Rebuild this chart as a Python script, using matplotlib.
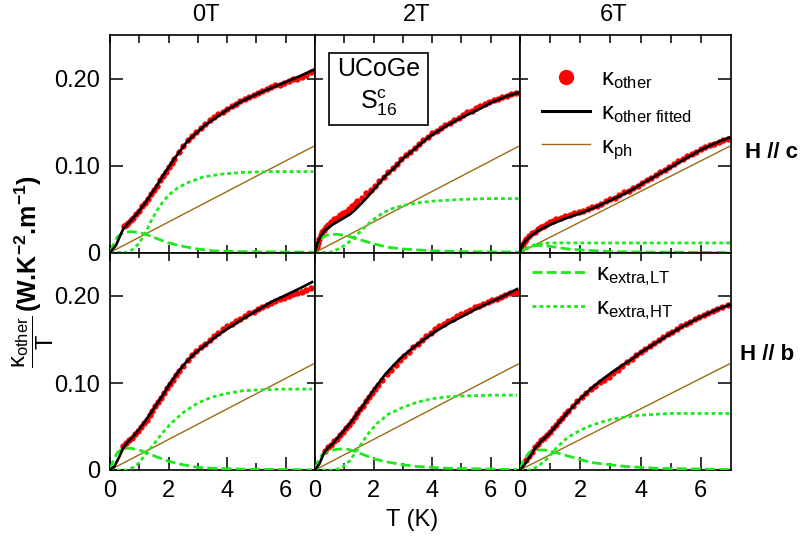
import matplotlib.pyplot as plt
from matplotlib.lines import Line2D
from matplotlib.ticker import FixedLocator, FuncFormatter

plt.rcParams['font.family'] = ['Liberation Sans', 'DejaVu Sans']
plt.rcParams['mathtext.fontset'] = 'custom'
plt.rcParams['mathtext.rm'] = 'Liberation Sans'
plt.rcParams['mathtext.it'] = 'Liberation Sans:italic'
plt.rcParams['mathtext.bf'] = 'Liberation Sans:bold'
plt.rcParams['font.size'] = 17

# ---------------- data ----------------
fields = ['0T', '2T', '6T']

# phonon contribution (same in every panel)
T_ph = [0, 6.95]
k_ph = [0, 0.122]

# H // c, 0T
T_c0 = [0.48, 0.55, 0.62, 0.7, 0.8, 0.9, 1.0, 1.1, 1.2, 1.3, 1.4, 1.5, 1.6, 1.7, 1.8, 1.9, 2.0, 2.1, 2.2, 2.35,
        2.5, 2.65, 2.8, 2.95, 3.1, 3.25, 3.4, 3.55, 3.7, 3.85, 4.0, 4.15, 4.3, 4.45, 4.6, 4.75, 4.9, 5.05, 5.2,
        5.35, 5.5, 5.65, 5.8, 5.95, 6.1, 6.25, 6.4, 6.55, 6.7, 6.85]
k_c0 = [0.030, 0.032, 0.034, 0.037, 0.040, 0.044, 0.048, 0.053, 0.057, 0.062, 0.067, 0.072, 0.077, 0.083,
        0.088, 0.093, 0.098, 0.103, 0.108, 0.115, 0.122, 0.129, 0.134, 0.139, 0.143, 0.148, 0.152, 0.156,
        0.159, 0.162, 0.165, 0.168, 0.171, 0.174, 0.177, 0.179, 0.181, 0.183, 0.186, 0.188, 0.190, 0.192,
        0.193, 0.195, 0.197, 0.199, 0.200, 0.202, 0.204, 0.207]
Tfit_c0 = [0, 0.2, 0.45, 0.6, 0.8, 1.0, 1.2, 1.4, 1.6, 1.8, 2.0, 2.2, 2.4, 2.6, 2.8, 3.0, 3.2, 3.4, 3.7, 4.0,
           4.5, 5.0, 5.5, 6.0, 6.5, 6.95]
kfit_c0 = [0, 0.008, 0.027, 0.033, 0.040, 0.048, 0.057, 0.067, 0.077, 0.088, 0.098, 0.108, 0.117, 0.126,
           0.133, 0.139, 0.145, 0.150, 0.157, 0.164, 0.174, 0.182, 0.189, 0.196, 0.203, 0.210]
Tlt_c0 = [0, 0.1, 0.25, 0.45, 0.7, 1.0, 1.3, 1.6, 2.0, 2.5, 3.0, 3.5, 4.5, 6.95]
klt_c0 = [0, 0.008, 0.018, 0.023, 0.024, 0.023, 0.020, 0.016, 0.011, 0.007, 0.004, 0.002, 0.001, 0.0003]
Tht_c0 = [0, 0.6, 0.8, 1.0, 1.2, 1.4, 1.6, 1.8, 2.0, 2.3, 2.7, 3.2, 3.8, 4.5, 5.5, 6.95]
kht_c0 = [0, 0, 0.004, 0.011, 0.022, 0.036, 0.048, 0.058, 0.066, 0.074, 0.081, 0.087, 0.090, 0.092, 0.093, 0.093]

# H // c, 2T
T_c1 = [0.02, 0.06, 0.1, 0.15, 0.2, 0.25, 0.3, 0.38, 0.46, 0.55, 0.65, 0.75, 0.85, 0.95, 1.05, 1.15, 1.25,
        1.35, 1.45, 1.6, 1.75, 1.9, 2.05, 2.2, 2.35, 2.5, 2.65, 2.8, 2.95, 3.1, 3.25, 3.4, 3.55, 3.7, 3.85,
        4.0, 4.15, 4.3, 4.45, 4.6, 4.75, 4.9, 5.05, 5.2, 5.35, 5.5, 5.65, 5.8, 5.95, 6.1, 6.25, 6.4, 6.55,
        6.7, 6.85]
k_c1 = [0.0, 0.006, 0.011, 0.016, 0.020, 0.023, 0.026, 0.029, 0.032, 0.035, 0.038, 0.040, 0.043, 0.045,
        0.047, 0.050, 0.053, 0.056, 0.059, 0.063, 0.068, 0.072, 0.077, 0.082, 0.087, 0.092, 0.097, 0.102,
        0.107, 0.112, 0.116, 0.120, 0.125, 0.129, 0.133, 0.137, 0.140, 0.143, 0.146, 0.149, 0.152, 0.155,
        0.158, 0.161, 0.163, 0.166, 0.168, 0.171, 0.173, 0.175, 0.177, 0.179, 0.180, 0.182, 0.183]
Tfit_c1 = [0, 0.05, 0.1, 0.2, 0.3, 0.4, 0.6, 0.8, 1.0, 1.2, 1.4, 1.6, 1.8, 2.0, 2.2, 2.4, 2.7, 3.0, 3.4, 3.9,
           4.5, 5.0, 5.5, 6.0, 6.5, 6.95]
kfit_c1 = [0, 0.006, 0.012, 0.019, 0.024, 0.027, 0.032, 0.036, 0.040, 0.044, 0.050, 0.057, 0.064, 0.072,
           0.080, 0.088, 0.097, 0.108, 0.119, 0.133, 0.146, 0.155, 0.163, 0.172, 0.179, 0.184]
Tlt_c1 = [0, 0.1, 0.2, 0.4, 0.7, 1.0, 1.3, 1.6, 2.0, 2.5, 3.0, 4.0, 5.0, 6.95]
klt_c1 = [0, 0.010, 0.016, 0.020, 0.021, 0.020, 0.017, 0.014, 0.010, 0.006, 0.004, 0.002, 0.001, 0.0005]
Tht_c1 = [0, 0.5, 0.8, 1.0, 1.2, 1.4, 1.6, 1.8, 2.0, 2.3, 2.6, 3.0, 3.5, 4.0, 5.0, 6.0, 6.95]
kht_c1 = [0, 0, 0.004, 0.008, 0.013, 0.019, 0.026, 0.032, 0.038, 0.045, 0.050, 0.054, 0.057, 0.059, 0.061,
          0.062, 0.062]

# H // c, 6T
T_c2 = [0.02, 0.05, 0.1, 0.15, 0.2, 0.3, 0.4, 0.5, 0.6, 0.7, 0.8, 0.9, 1.0, 1.1, 1.2, 1.35, 1.5, 1.65, 1.8,
        1.95, 2.1, 2.25, 2.4, 2.55, 2.7, 2.85, 3.0, 3.15, 3.3, 3.45, 3.6, 3.75, 3.9, 4.05, 4.2, 4.35, 4.5,
        4.65, 4.8, 4.95, 5.1, 5.25, 5.4, 5.55, 5.7, 5.85, 6.0, 6.15, 6.3, 6.45, 6.6, 6.75, 6.9]
k_c2 = [0.001, 0.006, 0.010, 0.013, 0.015, 0.019, 0.022, 0.024, 0.027, 0.029, 0.031, 0.033, 0.035, 0.036,
        0.038, 0.040, 0.042, 0.043, 0.045, 0.047, 0.048, 0.050, 0.052, 0.054, 0.056, 0.059, 0.061, 0.063,
        0.066, 0.069, 0.071, 0.074, 0.077, 0.080, 0.083, 0.086, 0.089, 0.092, 0.095, 0.098, 0.102, 0.105,
        0.108, 0.111, 0.113, 0.116, 0.119, 0.121, 0.123, 0.125, 0.127, 0.129, 0.131]
Tfit_c2 = [0, 0.04, 0.15, 0.32, 0.6, 1.0, 1.5, 2.0, 2.5, 3.0, 3.5, 4.0, 4.5, 5.0, 5.5, 6.0, 6.5, 7.0]
kfit_c2 = [0, 0.006, 0.012, 0.018, 0.025, 0.032, 0.039, 0.045, 0.052, 0.060, 0.068, 0.078, 0.088, 0.098,
           0.108, 0.118, 0.126, 0.133]
Tlt_c2 = [0, 0.2, 0.5, 0.8, 1.2, 1.6, 2.0, 2.5, 3.0, 4.0, 7.0]
klt_c2 = [0, 0.005, 0.008, 0.008, 0.006, 0.004, 0.003, 0.002, 0.001, 0.0005, 0]
Tht_c2 = [0, 0.2, 0.4, 0.6, 1.0, 7.0]
kht_c2 = [0, 0.004, 0.008, 0.010, 0.011, 0.011]

# H // b, 0T
T_b0 = [0.45, 0.55, 0.65, 0.75, 0.85, 0.95, 1.05, 1.15, 1.25, 1.35, 1.45, 1.55, 1.65, 1.75, 1.85, 1.95, 2.05,
        2.15, 2.25, 2.35, 2.5, 2.65, 2.8, 2.95, 3.1, 3.25, 3.4, 3.55, 3.7, 3.85, 4.0, 4.15, 4.3, 4.45, 4.6,
        4.75, 4.9, 5.05, 5.2, 5.35, 5.5, 5.65, 5.8, 5.95, 6.1, 6.25, 6.4, 6.55, 6.7, 6.85]
k_b0 = [0.028, 0.031, 0.034, 0.037, 0.041, 0.045, 0.049, 0.054, 0.058, 0.063, 0.068, 0.073, 0.078, 0.083,
        0.088, 0.094, 0.099, 0.104, 0.109, 0.114, 0.120, 0.126, 0.132, 0.137, 0.141, 0.145, 0.150, 0.154,
        0.158, 0.162, 0.165, 0.168, 0.171, 0.174, 0.177, 0.180, 0.182, 0.185, 0.187, 0.190, 0.192, 0.194,
        0.196, 0.198, 0.200, 0.202, 0.203, 0.205, 0.207, 0.209]
Tfit_b0 = [0, 0.15, 0.3, 0.45, 0.6, 0.8, 1.0, 1.2, 1.4, 1.6, 1.8, 2.0, 2.2, 2.4, 2.6, 2.8, 3.0, 3.3, 3.6, 4.0,
           4.5, 5.0, 5.5, 6.0, 6.5, 6.9]
kfit_b0 = [0, 0.004, 0.014, 0.025, 0.032, 0.039, 0.047, 0.056, 0.066, 0.076, 0.086, 0.097, 0.107, 0.116,
           0.124, 0.131, 0.137, 0.145, 0.153, 0.162, 0.173, 0.183, 0.193, 0.201, 0.209, 0.216]
Tlt_b0 = [0, 0.1, 0.25, 0.45, 0.7, 1.0, 1.3, 1.6, 2.0, 2.5, 3.0, 3.5, 4.5, 6.9]
klt_b0 = [0, 0.010, 0.020, 0.025, 0.025, 0.023, 0.019, 0.015, 0.010, 0.006, 0.003, 0.002, 0.001, 0.0003]
Tht_b0 = [0, 0.6, 0.9, 1.2, 1.5, 1.8, 2.1, 2.5, 3.0, 3.5, 4.0, 4.5, 5.0, 6.0, 6.9]
kht_b0 = [0, 0, 0.005, 0.017, 0.030, 0.043, 0.054, 0.066, 0.077, 0.084, 0.088, 0.091, 0.092, 0.093, 0.093]

# H // b, 2T
T_b1 = [0.35, 0.45, 0.55, 0.65, 0.75, 0.85, 0.95, 1.05, 1.15, 1.25, 1.35, 1.45, 1.55, 1.65, 1.75, 1.85, 1.95,
        2.05, 2.15, 2.3, 2.45, 2.6, 2.75, 2.9, 3.05, 3.2, 3.35, 3.5, 3.65, 3.8, 3.95, 4.1, 4.25, 4.4, 4.55,
        4.7, 4.85, 5.0, 5.15, 5.3, 5.45, 5.6, 5.75, 5.9, 6.05, 6.2, 6.35, 6.5, 6.65, 6.8, 6.9]
k_b1 = [0.022, 0.026, 0.029, 0.033, 0.036, 0.040, 0.044, 0.048, 0.052, 0.056, 0.061, 0.065, 0.070, 0.074,
        0.079, 0.084, 0.089, 0.093, 0.098, 0.104, 0.110, 0.115, 0.121, 0.126, 0.131, 0.136, 0.141, 0.145,
        0.150, 0.154, 0.158, 0.162, 0.165, 0.168, 0.171, 0.174, 0.177, 0.179, 0.182, 0.184, 0.187, 0.189,
        0.191, 0.193, 0.195, 0.197, 0.199, 0.201, 0.203, 0.204, 0.205]
Tfit_b1 = [0, 0.15, 0.3, 0.45, 0.6, 0.8, 1.0, 1.2, 1.4, 1.6, 1.8, 2.0, 2.2, 2.4, 2.7, 3.0, 3.4, 3.8, 4.2, 4.6,
           5.0, 5.5, 6.0, 6.5, 6.9]
kfit_b1 = [0, 0.007, 0.019, 0.026, 0.030, 0.038, 0.046, 0.054, 0.063, 0.072, 0.082, 0.092, 0.101, 0.110,
           0.121, 0.131, 0.142, 0.152, 0.161, 0.169, 0.176, 0.185, 0.193, 0.201, 0.208]
Tlt_b1 = [0, 0.1, 0.25, 0.45, 0.8, 1.1, 1.4, 1.7, 2.1, 2.5, 3.0, 3.5, 4.5, 6.9]
klt_b1 = [0, 0.010, 0.018, 0.022, 0.024, 0.024, 0.021, 0.017, 0.012, 0.009, 0.006, 0.004, 0.002, 0.0005]
Tht_b1 = [0, 0.6, 0.9, 1.2, 1.5, 1.8, 2.1, 2.5, 3.0, 3.5, 4.0, 4.5, 5.0, 6.0, 6.9]
kht_b1 = [0, 0, 0.002, 0.011, 0.026, 0.041, 0.053, 0.064, 0.072, 0.078, 0.082, 0.084, 0.085, 0.086, 0.086]

# H // b, 6T
T_b2 = [0.2, 0.3, 0.4, 0.5, 0.6, 0.7, 0.8, 0.9, 1.0, 1.1, 1.2, 1.3, 1.4, 1.5, 1.6, 1.75, 1.9, 2.05, 2.2, 2.35,
        2.5, 2.65, 2.8, 2.95, 3.1, 3.25, 3.4, 3.55, 3.7, 3.85, 4.0, 4.15, 4.3, 4.45, 4.6, 4.75, 4.9, 5.05,
        5.2, 5.35, 5.5, 5.65, 5.8, 5.95, 6.1, 6.25, 6.4, 6.55, 6.7, 6.9]
k_b2 = [0.011, 0.016, 0.021, 0.026, 0.030, 0.034, 0.037, 0.040, 0.044, 0.048, 0.052, 0.056, 0.060, 0.064,
        0.068, 0.073, 0.079, 0.084, 0.089, 0.093, 0.097, 0.101, 0.104, 0.107, 0.111, 0.115, 0.120, 0.124,
        0.128, 0.132, 0.136, 0.139, 0.143, 0.146, 0.149, 0.153, 0.156, 0.159, 0.162, 0.165, 0.168, 0.170,
        0.173, 0.176, 0.178, 0.181, 0.183, 0.185, 0.187, 0.190]
Tfit_b2 = [0, 0.15, 0.3, 0.5, 0.7, 1.0, 1.3, 1.6, 2.0, 2.4, 2.8, 3.2, 3.6, 4.0, 4.5, 5.0, 5.5, 6.0, 6.5, 6.95]
kfit_b2 = [0, 0.006, 0.014, 0.025, 0.033, 0.043, 0.055, 0.067, 0.082, 0.095, 0.106, 0.116, 0.125, 0.135,
           0.146, 0.157, 0.167, 0.176, 0.184, 0.190]
Tlt_b2 = [0, 0.1, 0.3, 0.5, 0.8, 1.1, 1.4, 1.7, 2.1, 2.5, 3.0, 3.5, 4.5, 6.95]
klt_b2 = [0, 0.010, 0.020, 0.023, 0.023, 0.021, 0.018, 0.015, 0.011, 0.008, 0.006, 0.004, 0.002, 0.0005]
Tht_b2 = [0, 0.3, 0.6, 0.9, 1.2, 1.5, 1.8, 2.2, 2.6, 3.0, 3.5, 4.0, 5.0, 6.95]
kht_b2 = [0, 0, 0.004, 0.013, 0.025, 0.035, 0.042, 0.049, 0.054, 0.058, 0.061, 0.063, 0.065, 0.065]

panels = [
    [(T_c0, k_c0, Tfit_c0, kfit_c0, Tlt_c0, klt_c0, Tht_c0, kht_c0),
     (T_c1, k_c1, Tfit_c1, kfit_c1, Tlt_c1, klt_c1, Tht_c1, kht_c1),
     (T_c2, k_c2, Tfit_c2, kfit_c2, Tlt_c2, klt_c2, Tht_c2, kht_c2)],
    [(T_b0, k_b0, Tfit_b0, kfit_b0, Tlt_b0, klt_b0, Tht_b0, kht_b0),
     (T_b1, k_b1, Tfit_b1, kfit_b1, Tlt_b1, klt_b1, Tht_b1, kht_b1),
     (T_b2, k_b2, Tfit_b2, kfit_b2, Tlt_b2, klt_b2, Tht_b2, kht_b2)],
]

RED = '#ff0000'
GREEN = '#1ee81e'
BROWN = '#9c6a12'
W, H = 805, 541

fig = plt.figure(figsize=(W / 100, H / 100), dpi=100)
gs = fig.add_gridspec(2, 3, left=110 / W, right=731 / W, top=1 - 35 / H, bottom=1 - 470 / H,
                      wspace=0, hspace=0, width_ratios=[205, 205, 211])

yfmt = FuncFormatter(lambda v, p: '0' if abs(v) < 1e-9 else f'{v:.2f}')
axes = [[None] * 3 for _ in range(2)]
for r in range(2):
    for c in range(3):
        ax = fig.add_subplot(gs[r, c])
        axes[r][c] = ax
        Td, kd, Tf, kf, Tl, kl, Th, kh = panels[r][c]
        ax.plot(Td, kd, 'o', color=RED, ms=4.6, mec='none', clip_on=False, zorder=2)
        ax.plot(T_ph, k_ph, color=BROWN, lw=1.0, zorder=3)
        ax.plot(Tl, kl, color=GREEN, lw=2.0, dashes=(3.6, 1.5), zorder=3)
        ax.plot(Th, kh, color=GREEN, lw=2.0, dashes=(1.4, 1.1), zorder=3)
        ax.plot(Tf, kf, color='black', lw=1.9, zorder=4)

        ax.set_xlim(0, 7)
        ax.set_ylim(0, 0.25)
        ax.xaxis.set_major_locator(FixedLocator([0, 2, 4, 6]))
        ax.xaxis.set_minor_locator(FixedLocator([1, 3, 5]))
        ax.yaxis.set_major_locator(FixedLocator([0, 0.1, 0.2]))
        ax.yaxis.set_major_formatter(yfmt)
        ax.tick_params(which='both', direction='in', top=True, right=True, width=1.1)
        ax.tick_params(which='major', length=5.5)
        ax.tick_params(which='minor', length=3.5)
        ax.tick_params(axis='y', pad=7)
        ax.tick_params(axis='x', pad=7)
        ax.tick_params(labelleft=(c == 0), labelbottom=(r == 1))
        for s in ax.spines.values():
            s.set_linewidth(1.2)

        # longer ticks on the outer frame
        if c == 0:
            for t in ax.yaxis.get_major_ticks():
                t.tick1line.set_markersize(9.5)
        if c == 2:
            for t in ax.yaxis.get_major_ticks():
                t.tick2line.set_markersize(9.5)
        if r == 1:
            for t in ax.xaxis.get_major_ticks():
                t.tick1line.set_markersize(9.5)
            for t in ax.xaxis.get_minor_ticks():
                t.tick1line.set_markersize(5)
        if r == 0:
            for t in ax.xaxis.get_minor_ticks():
                t.tick2line.set_markersize(5.5)

# column titles
for x_px, name in zip([206, 417, 614], fields):
    fig.text(x_px / W, 1 - 15 / H, name, ha='center', va='center', fontsize=17)

# axis labels
fig.text(412 / W, 1 - 520 / H, 'T (K)', ha='center', va='center', fontsize=17)
fig.text(33 / W, 1 - 342 / H, r'$\dfrac{\mathregular{κ}_{\mathregular{other}}}{\mathregular{T}}$',
         rotation=90, ha='center', va='center', fontsize=17)
fig.text(28 / W, 1 - 243 / H, r'(W.K$^{\mathregular{-2}}$.m$^{\mathregular{-1}}$)',
         rotation=90, ha='center', va='center', fontsize=18, fontweight='bold')

# orientation labels
fig.text(745 / W, 1 - 153 / H, 'H // c', ha='left', va='center', fontsize=16, fontweight='bold')
fig.text(740 / W, 1 - 355 / H, 'H // b', ha='left', va='center', fontsize=16, fontweight='bold')

# sample box
axes[0][1].text(0.31, 0.76, 'UCoGe\nS$^{\\mathregular{c}}_{\\mathregular{16}}$', transform=axes[0][1].transAxes,
                ha='center', va='center', fontsize=18, linespacing=1.3,
                bbox=dict(boxstyle='square,pad=0.3', fc='white', ec='black', lw=1.2))

# legends
h_top = [Line2D([], [], ls='none', marker='o', ms=11, color=RED, mec='none'),
         Line2D([], [], color='black', lw=2.2),
         Line2D([], [], color=BROWN, lw=1.0)]
l_top = ['κ$_{\\mathregular{other}}$', 'κ$_{\\mathregular{other\\ fitted}}$', 'κ$_{\\mathregular{ph}}$']
axes[0][2].legend(h_top, l_top, loc='upper left', bbox_to_anchor=(0.05, 0.9), frameon=False,
                  handlelength=2.0, handletextpad=0.5, labelspacing=0.45, borderpad=0, fontsize=17)

h_bot = [Line2D([], [], color=GREEN, lw=2.0, dashes=(3.6, 1.5)),
         Line2D([], [], color=GREEN, lw=2.0, dashes=(1.4, 1.1))]
l_bot = ['κ$_{\\mathregular{extra{,}LT}}$', 'κ$_{\\mathregular{extra{,}HT}}$']
axes[1][2].legend(h_bot, l_bot, loc='upper left', bbox_to_anchor=(0.0, 1.005), frameon=False,
                  handlelength=2.3, handletextpad=0.4, labelspacing=0.38, borderpad=0, fontsize=17)

fig.savefig('out.png', dpi=100)
